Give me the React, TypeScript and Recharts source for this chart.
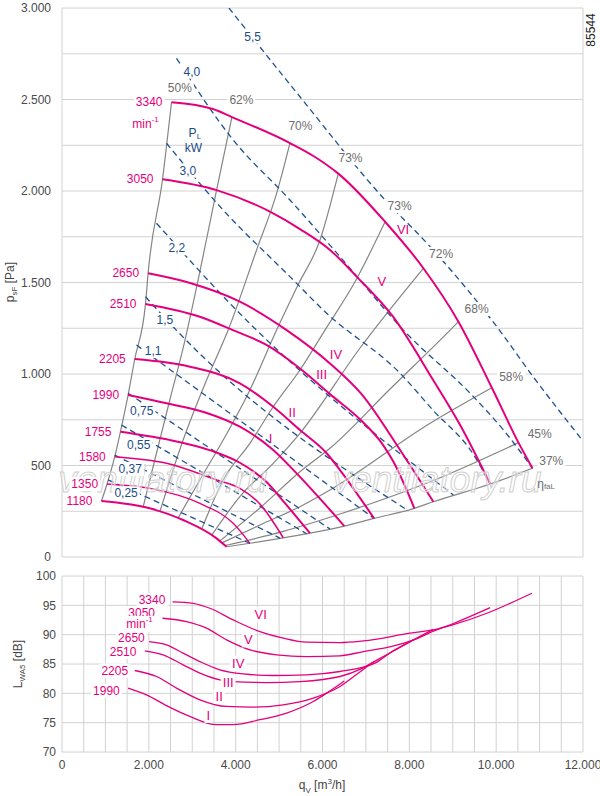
import React from 'react';
import { LineChart, Line, XAxis, YAxis, CartesianGrid, ReferenceDot } from 'recharts';

type P = [number, number];

// ---------- axes ----------
const flowTicks = [0, 500, 1000, 1500, 2000, 2500, 3000, 3500, 4000, 4500, 5000, 5500, 6000, 6500, 7000, 7500, 8000, 8500, 9000, 9500, 10000, 10500, 11000, 11500, 12000];
const pressureTicks = [0, 250, 500, 750, 1000, 1250, 1500, 1750, 2000, 2250, 2500, 2750, 3000];
const levelTicks = [70, 75, 80, 85, 90, 95, 100];

// ---------- fan curves (q_V m3/h, p_sF Pa) ----------
const speeds = [3340, 3050, 2650, 2510, 2205, 1990, 1755, 1580, 1350, 1180];
const fan3340: P[] = [[2522, 2485], [3475, 2448], [3913, 2404], [5250, 2262], [5800, 2190], [6364, 2095], [7441, 1832], [8324, 1578], [9131, 1286], [9901, 925], [10514, 625], [10837, 485]];
const fan3050: P[] = [[2315, 2064], [3560, 2005], [4789, 1887], [5481, 1792], [6173, 1678], [6788, 1532], [7625, 1313], [8548, 967], [9170, 721], [9862, 399]];
const fan2650: P[] = [[1983, 1550], [2950, 1497], [4097, 1395], [5174, 1240], [6172, 1058], [6900, 890], [7787, 585], [8554, 302]];
const fan2510: P[] = [[1923, 1383], [3175, 1313], [3936, 1240], [4700, 1160], [5481, 1030], [6172, 890], [6940, 735], [7401, 610], [7634, 520], [8116, 266]];
const fan2205: P[] = [[1676, 1082], [2945, 1040], [4097, 949], [4865, 821], [5481, 694], [6096, 567], [6403, 475], [7187, 211]];
const fan1990: P[] = [[1522, 885], [2407, 840], [3300, 790], [4097, 712], [4865, 585], [5404, 457], [5900, 330], [6502, 169]];
const fan1755: P[] = [[1346, 685], [2407, 643], [3450, 580], [4097, 515], [4712, 410], [5150, 290], [5711, 130]];
const fan1580: P[] = [[1215, 548], [2407, 512], [3560, 421], [4097, 375], [4558, 290], [5096, 105]];
const fan1350: P[] = [[1038, 399], [2022, 375], [3175, 293], [3943, 184], [4328, 75]];
const fan1180: P[] = [[908, 306], [2022, 266], [2790, 202], [3560, 102], [3791, 56]];
const fanCurves = [fan3340, fan3050, fan2650, fan2510, fan2205, fan1990, fan1755, fan1580, fan1350, fan1180];

// ---------- efficiency lines ----------
const eff62: P[] = [[1868, 272], [2137, 530], [2483, 858], [2806, 1158], [3136, 1514], [3560, 2005], [3913, 2404]];
const eff70: P[] = [[2253, 247], [2483, 421], [2790, 639], [3330, 967], [3827, 1240], [4482, 1678], [4943, 1987], [5250, 2262]];
const eff73a: P[] = [[2675, 214], [3175, 421], [3712, 639], [4328, 913], [4943, 1240], [5435, 1486], [5942, 1732], [6364, 2095]];
const eff73b: P[] = [[3214, 150], [3712, 421], [4328, 621], [4865, 821], [5481, 1022], [6057, 1240], [6772, 1514], [7441, 1832]];
const eff72: P[] = [[3445, 118], [4097, 330], [4865, 512], [5481, 676], [6864, 1142], [8324, 1578]];
const eff68: P[] = [[3636, 88], [4558, 268], [5481, 466], [6172, 594], [7556, 918], [8940, 1240], [9131, 1286]];
const eff58: P[] = [[3682, 77], [4558, 175], [5481, 275], [6172, 366], [8479, 731], [9901, 925]];
const eff45: P[] = [[3757, 63], [5096, 140], [6403, 235], [8479, 411], [10514, 625]];
const effInner = [eff62, eff70, eff73a, eff73b, eff72, eff68, eff58, eff45];

// ---------- shaft power lines (kW) ----------
const pw55: P[] = [[3844, 3000], [5481, 2515], [7441, 1951], [8479, 1696], [10016, 1258], [10853, 985], [11983, 639]];
const pw40: P[] = [[2638, 2725], [3943, 2279], [5250, 1951], [6403, 1641], [7862, 1240], [9477, 876], [10168, 694], [10837, 485]];
const pw30: P[] = [[2407, 2261], [3712, 1896], [5250, 1532], [6096, 1332], [7787, 1004], [8554, 800], [9477, 560], [9862, 399]];
const pw22: P[] = [[2177, 1824], [3867, 1386], [9015, 339]];
const pw15: P[] = [[1923, 1422], [2559, 1258], [7948, 257]];
const pw11: P[] = [[1715, 1158], [7187, 211]];
const pw075: P[] = [[1522, 895], [6172, 153]];
const pw055: P[] = [[1370, 721], [5635, 127]];
const pw037: P[] = [[1215, 557], [5020, 103]];
const pw025: P[] = [[1061, 421], [4328, 75]];
const powerLines = [pw55, pw40, pw30, pw22, pw15, pw11, pw075, pw055, pw037, pw025];

// ---------- sound power level (q_V m3/h, L_WA5 dB) ----------
const noise3340: P[] = [[2546, 95.6], [3020, 95.35], [3406, 94.5], [3943, 92.51], [4558, 90.52], [5096, 89.4], [5635, 88.72], [6403, 88.65], [6940, 88.94], [8017, 90.25], [8633, 90.93], [9016, 91.7], [9786, 93.65], [10823, 97.06]];
const noise3050: P[] = [[2315, 92.8], [2868, 92.22], [3330, 91.1], [3791, 89.11], [4328, 87.41], [4943, 86.56], [5635, 86.27], [6403, 86.39], [6940, 87.12], [7600, 88.0], [8101, 89.1], [8554, 90.6], [9016, 91.9], [9862, 94.6]];
const noise2650: P[] = [[2006, 88.82], [2407, 88.26], [2790, 86.85], [3175, 85.42], [3636, 84.01], [4173, 83.32], [4865, 83.04], [5635, 83.15], [6403, 83.72], [7210, 85.14], [7600, 87.1], [8017, 88.8], [8554, 90.9]];
const noise2510: P[] = [[1907, 87.24], [2329, 86.56], [2790, 84.86], [3175, 83.44], [3636, 82.3], [3943, 82.01], [4713, 81.84], [5481, 82.01], [6403, 82.87], [6900, 84.2], [7210, 85.5], [7600, 87.1], [8116, 89.2]];
const noise2205: P[] = [[1676, 83.89], [2177, 82.87], [2638, 80.89], [3175, 78.9], [3791, 77.76], [4404, 77.66], [5096, 78.05], [5787, 79.19], [6403, 81.16], [6800, 83.3], [7187, 85.45]];
const noise1990: P[] = [[1522, 80.9], [1946, 79.75], [2407, 77.9], [2944, 76.06], [3560, 74.65], [3943, 74.65], [4558, 75.5], [5174, 76.64], [5787, 78.61], [6150, 80.3], [6502, 82.1]];
const noiseCurves = [noise3340, noise3050, noise2650, noise2510, noise2205, noise1990];

// ---------- annotations (data coordinates) ----------
const effLabels = [
  { text: '50%', x: 2714, y: 2563 }, { text: '62%', x: 4132, y: 2497 }, { text: '70%', x: 5492, y: 2357 },
  { text: '73%', x: 6645, y: 2179 }, { text: '73%', x: 7775, y: 1918 }, { text: '72%', x: 8732, y: 1656 },
  { text: '68%', x: 9550, y: 1355 }, { text: '58%', x: 10346, y: 984 }, { text: '45%', x: 11003, y: 672 },
  { text: '37%', x: 11268, y: 525 },
];
const powerLabels = [
  { text: '5,5', x: 4390, y: 2843 }, { text: '4,0', x: 2990, y: 2652 }, { text: '3,0', x: 2898, y: 2111 },
  { text: '2,2', x: 2645, y: 1687 }, { text: '1,5', x: 2368, y: 1295 }, { text: '1,1', x: 2099, y: 1126 },
  { text: '0,75', x: 1838, y: 800 }, { text: '0,55', x: 1768, y: 612 }, { text: '0,37', x: 1573, y: 481 },
  { text: '0,25', x: 1476, y: 348 },
];
const romanTop = [
  { text: 'VI', x: 7856, y: 1792 }, { text: 'V', x: 7364, y: 1504 }, { text: 'IV', x: 6311, y: 1104 },
  { text: 'III', x: 5981, y: 995 }, { text: 'II', x: 5303, y: 789 }, { text: 'I', x: 4805, y: 649 },
];
const romanBottom = [
  { text: 'VI', x: 4577, y: 93.36 }, { text: 'V', x: 4289, y: 89.11 }, { text: 'IV', x: 4058, y: 85.14 },
  { text: 'III', x: 3828, y: 81.91 }, { text: 'II', x: 3620, y: 79.47 }, { text: 'I', x: 3371, y: 76.23 },
];
const speedLabelsBottom = [
  { text: '3340', x: 2380, y: 95.92 }, { text: '3050', x: 2142, y: 93.65 }, { text: '2650', x: 1907, y: 89.4 },
  { text: '2510', x: 1715, y: 87.12 }, { text: '2205', x: 1522, y: 83.89 }, { text: '1990', x: 1330, y: 80.48 },
];
const minTop = { x: 2230, y: 2366 };
const minBottom = { x: 2091, y: 91.83 };
const pLabel = { x: 3060, y: 2317 };
const kwLabel = { x: 3025, y: 2233 };
const etaLabel = { x: 10945, y: 399 };
const watermarks = [{ x: 2322, y: 426 }, { x: 8640, y: 426 }];

// ---------- styling ----------
const FONT = '"Liberation Sans", Arial, Helvetica, sans-serif';
const PINK = '#E4007C';
const BLUE = '#1E528F';
const BLUE_TXT = '#1B4C88';
const GRAY = '#858585';
const GRAY_TXT = '#6E6E6E';
const GRID = '#D2D2D2';
const TICK = '#4A4A4A';

const xy = (a: P[]) => a.map(([x, y]) => ({ x, y }));
const byX = (a: P[]) => [...a].sort((p, q) => p[0] - q[0]);
const eff50 = byX(fanCurves.map((c) => c[0]));
const eff37 = byX(fanCurves.map((c) => c[c.length - 1]));

const fmtThousands = (v: number) => {
  if (v < 1000) return String(v);
  const k = Math.floor(v / 1000);
  const r = v % 1000;
  return `${k}.${String(r).padStart(3, '0')}`;
};

const charW = (c: string) =>
  '0123456789'.includes(c) ? 0.556 : c === '%' ? 0.889 : c === ',' || c === '.' || c === 'I' ? 0.278 : c === 'V' ? 0.667 : 0.556;
const textWidth = (s: string, size: number) => [...s].reduce((a, c) => a + charW(c), 0) * size;

type TagProps = {
  cx: number; cy: number; text: string; anchor?: 'start' | 'middle' | 'end';
  color: string; size?: number; bg?: boolean; dx?: number; dy?: number;
};
function Tag({ cx, cy, text, anchor = 'middle', color, size = 12, bg = true, dx = 0, dy = 0 }: TagProps) {
  const w = textWidth(text, size);
  const x = cx + dx;
  const x0 = anchor === 'end' ? x - w : anchor === 'start' ? x : x - w / 2;
  return (
    <g>
      {bg && <rect x={x0 - 2} y={cy + dy - size / 2 - 1} width={w + 4} height={size + 2} fill="#fff" />}
      <text x={x} y={cy + dy} textAnchor={anchor} dominantBaseline="central" fill={color} fontSize={size} fontFamily={FONT}>
        {text}
      </text>
    </g>
  );
}

const mark = (key: string, x: number, y: number, render: (cx: number, cy: number) => React.ReactElement) => (
  <ReferenceDot
    key={key}
    x={x}
    y={y}
    r={1}
    ifOverflow="visible"
    zIndex={2000}
    shape={(p: any) => render(p.cx, p.cy)}
  />
);

const fanWidth = (s: number) => (s === 1350 ? 1.3 : s === 1580 ? 1.6 : 2);

export default function App() {
  return (
    <div style={{ position: 'absolute', left: 0, top: 0, width: 600, height: 796, background: '#fff', fontFamily: FONT }}>
      <div style={{ position: 'absolute', left: 0, top: 0 }}>
        <LineChart width={600} height={570} margin={{ top: 8, right: 17, bottom: 13, left: 0 }}>
          <CartesianGrid stroke={GRID} strokeWidth={1} />
          <XAxis
            type="number" dataKey="x" domain={[0, 12000]} ticks={flowTicks} interval={0}
            height={0} tick={false} axisLine={false} tickLine={false} allowDataOverflow
          />
          <YAxis
            type="number" dataKey="y" domain={[0, 3000]} ticks={pressureTicks} interval={0} width={62}
            tickSize={9} tickLine={false} axisLine={false} allowDataOverflow
            tick={{ fill: TICK, fontSize: 12, fontFamily: FONT }}
            tickFormatter={(v: number) => (v % 500 === 0 ? fmtThousands(v) : '')}
          />
          {[eff50, ...effInner, eff37].map((l, i) => (
            <Line key={`eff${i}`} data={xy(l)} dataKey="y" type="monotone" stroke={GRAY} strokeWidth={1.2}
              dot={false} activeDot={false} isAnimationActive={false} />
          ))}
          {powerLines.map((l, i) => (
            <Line key={`pw${i}`} data={xy(l)} dataKey="y" type="monotone" stroke={BLUE} strokeWidth={1.3}
              strokeDasharray="6 4" dot={false} activeDot={false} isAnimationActive={false} />
          ))}
          {fanCurves.map((l, i) => (
            <Line key={`fan${i}`} data={xy(l)} dataKey="y" type="monotone" stroke={PINK} strokeWidth={fanWidth(speeds[i])}
              dot={false} activeDot={false} isAnimationActive={false} />
          ))}

          {watermarks.map((w, i) =>
            mark(`wm${i}`, w.x, w.y, (cx, cy) => (
              <text x={cx} y={cy} textAnchor="middle" dominantBaseline="central" fontSize={37} fontStyle="italic"
                fontFamily={FONT} fill="rgba(255,255,255,0.35)" stroke="#CFCFCF" strokeWidth={1}>
                ventilatory.ru
              </text>
            ))
          )}
          {effLabels.map((l, i) => mark(`el${i}`, l.x, l.y, (cx, cy) => <Tag cx={cx} cy={cy} text={l.text} color={GRAY_TXT} />))}
          {powerLabels.map((l, i) => mark(`pl${i}`, l.x, l.y, (cx, cy) => <Tag cx={cx} cy={cy} text={l.text} color={BLUE_TXT} />))}
          {romanTop.map((l, i) => mark(`rt${i}`, l.x, l.y, (cx, cy) => <Tag cx={cx} cy={cy} text={l.text} color={PINK} size={13} bg={false} />))}
          {fanCurves.map((c, i) =>
            mark(`sl${i}`, c[0][0], c[0][1], (cx, cy) => (
              <Tag cx={cx} cy={cy} text={String(speeds[i])} color={PINK} anchor="end" dx={-9} />
            ))
          )}
          {mark('minTop', minTop.x, minTop.y, (cx, cy) => (
            <g>
              <rect x={cx - 28} y={cy - 8} width={29} height={16} fill="#fff" />
              <text x={cx} y={cy} textAnchor="end" dominantBaseline="central" fill={PINK} fontSize={12} fontFamily={FONT}>
                min<tspan fontSize={8} dy={-5}>-1</tspan>
              </text>
            </g>
          ))}
          {mark('pL', pLabel.x, pLabel.y, (cx, cy) => (
            <text x={cx} y={cy} textAnchor="middle" dominantBaseline="central" fill={BLUE_TXT} fontSize={12} fontFamily={FONT}>
              P<tspan fontSize={8} dy={3}>L</tspan>
            </text>
          ))}
          {mark('kW', kwLabel.x, kwLabel.y, (cx, cy) => (
            <text x={cx} y={cy} textAnchor="middle" dominantBaseline="central" fill={BLUE_TXT} fontSize={12} fontFamily={FONT}>
              kW
            </text>
          ))}
          {mark('eta', etaLabel.x, etaLabel.y, (cx, cy) => (
            <text x={cx} y={cy} textAnchor="start" dominantBaseline="central" fill={GRAY_TXT} fontSize={12} fontFamily={FONT}>
              η<tspan fontSize={8} dy={2}>faL</tspan>
            </text>
          ))}
        </LineChart>
      </div>

      <div style={{ position: 'absolute', left: 0, top: 570 }}>
        <LineChart width={600} height={226} margin={{ top: 6, right: 17, bottom: 14, left: 0 }}>
          <CartesianGrid stroke={GRID} strokeWidth={1} />
          <XAxis
            type="number" dataKey="x" domain={[0, 12000]} ticks={flowTicks} interval={0} height={30}
            tickLine={false} axisLine={false} allowDataOverflow
            tick={{ fill: TICK, fontSize: 12, fontFamily: FONT }}
            tickFormatter={(v: number) => (v % 2000 === 0 ? fmtThousands(v) : '')}
          />
          <YAxis
            type="number" dataKey="y" domain={[70, 100]} ticks={levelTicks} interval={0} width={62}
            tickSize={4} tickLine={false} axisLine={false} allowDataOverflow
            tick={{ fill: TICK, fontSize: 12, fontFamily: FONT }}
          />
          {noiseCurves.map((l, i) => (
            <Line key={`n${i}`} data={xy(l)} dataKey="y" type="monotone" stroke={PINK} strokeWidth={1.3}
              dot={false} activeDot={false} isAnimationActive={false} />
          ))}
          {romanBottom.map((l, i) => mark(`rb${i}`, l.x, l.y, (cx, cy) => <Tag cx={cx} cy={cy} text={l.text} color={PINK} size={13} />))}
          {speedLabelsBottom.map((l, i) => mark(`sb${i}`, l.x, l.y, (cx, cy) => <Tag cx={cx} cy={cy} text={l.text} color={PINK} anchor="end" />))}
          {mark('minBottom', minBottom.x, minBottom.y, (cx, cy) => (
            <g>
              <rect x={cx - 28} y={cy - 8} width={29} height={16} fill="#fff" />
              <text x={cx} y={cy} textAnchor="end" dominantBaseline="central" fill={PINK} fontSize={12} fontFamily={FONT}>
                min<tspan fontSize={8} dy={-5}>-1</tspan>
              </text>
            </g>
          ))}
        </LineChart>
      </div>

      <div style={{ position: 'absolute', left: 11, top: 282, transform: 'translate(-50%, -50%) rotate(-90deg)', whiteSpace: 'nowrap', fontSize: 12, color: '#444' }}>
        p<sub style={{ fontSize: 8 }}>sF</sub> [Pa]
      </div>
      <div style={{ position: 'absolute', left: 19, top: 664, transform: 'translate(-50%, -50%) rotate(-90deg)', whiteSpace: 'nowrap', fontSize: 12, color: '#444' }}>
        L<sub style={{ fontSize: 8 }}>WA5</sub> [dB]
      </div>
      <div style={{ position: 'absolute', left: 322, top: 786, transform: 'translate(-50%, -50%)', whiteSpace: 'nowrap', fontSize: 12, color: '#444' }}>
        q<sub style={{ fontSize: 8 }}>V</sub> [m<sup style={{ fontSize: 8 }}>3</sup>/h]
      </div>
      <div style={{ position: 'absolute', left: 591, top: 30, transform: 'translate(-50%, -50%) rotate(-90deg)', whiteSpace: 'nowrap', fontSize: 12, color: '#222' }}>
        85544
      </div>
    </div>
  );
}
